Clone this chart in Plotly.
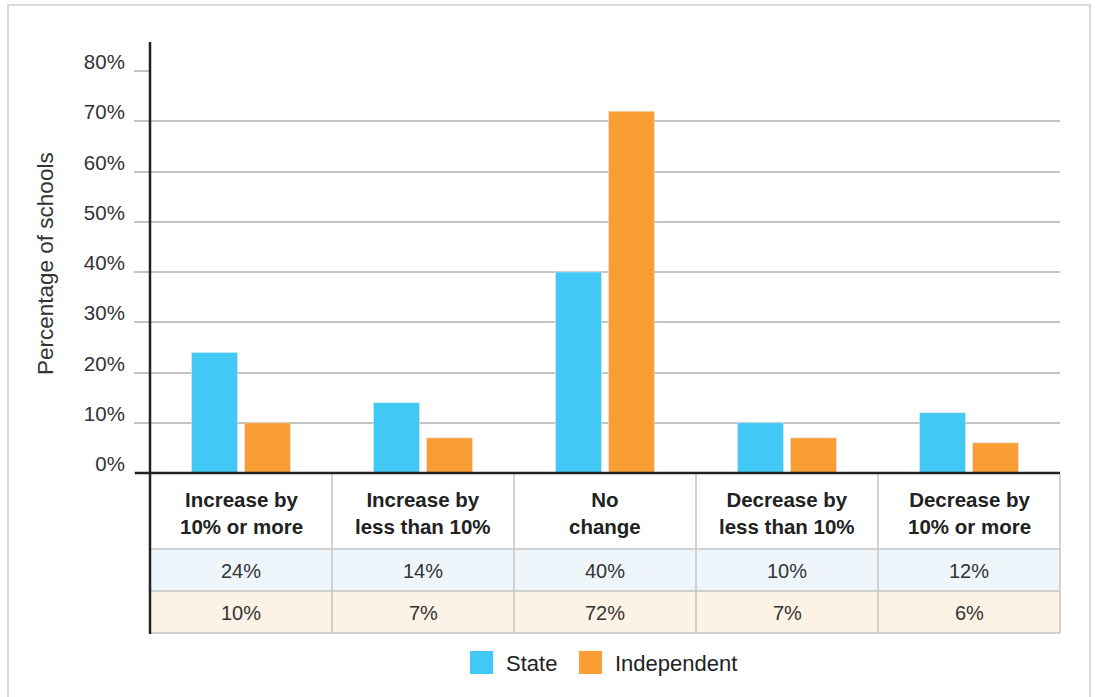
import plotly.graph_objects as go

# data
categories = ["Increase by<br>10% or more", "Increase by<br>less than 10%", "No<br>change",
              "Decrease by<br>less than 10%", "Decrease by<br>10% or more"]
state = [24, 14, 40, 10, 12]
independent = [10, 7, 72, 7, 6]
y_ticks = [0, 10, 20, 30, 40, 50, 60, 70, 80]
tick_labels = [f"{v}%" for v in y_ticks]

W, H = 1095, 697
L, R, T, B = 150, 1060, 71, 473  # plot area in pixels

def px(x):
    return (x - L) / (R - L)

def py(y):
    return (B - y) / (B - T)

STATE_C = "#41C8F4"
IND_C = "#F89E34"
GRID_C = "#C4C4C4"
TEXT_C = "#333333"
FONT = "Liberation Sans"

fig = go.Figure()
fig.add_trace(go.Bar(x=list(range(5)), y=state, name="State", marker_color=STATE_C,
                     showlegend=False))
fig.add_trace(go.Bar(x=list(range(5)), y=independent, name="Independent",
                     marker_color=IND_C, showlegend=False))

shapes = []
annotations = []

# outer frame
shapes.append(dict(type="rect", xref="paper", yref="paper", x0=px(8), x1=px(1090),
                   y0=py(710), y1=py(5), line=dict(color="#D0D0D0", width=1.5),
                   layer="below"))

# table rows fill
col_w = (R - L) / 5
shapes.append(dict(type="rect", xref="paper", yref="paper", x0=0, x1=1,
                   y0=py(591), y1=py(549), fillcolor="#EEF6FC", line_width=0, layer="below"))
shapes.append(dict(type="rect", xref="paper", yref="paper", x0=0, x1=1,
                   y0=py(633), y1=py(591), fillcolor="#FCF3E6", line_width=0, layer="below"))
# horizontal table lines
for yy in [549, 591, 633]:
    shapes.append(dict(type="line", xref="paper", yref="paper", x0=0, x1=1, y0=py(yy), y1=py(yy),
                       line=dict(color=GRID_C, width=1.5)))
# vertical table lines
for k in range(1, 6):
    xx = L + col_w * k
    shapes.append(dict(type="line", xref="paper", yref="paper", x0=px(xx), x1=px(xx),
                       y0=py(633), y1=py(474), line=dict(color=GRID_C, width=1.5)))
# axes lines
shapes.append(dict(type="line", xref="paper", yref="paper", x0=px(135), x1=1, y0=0, y1=0,
                   line=dict(color="#222222", width=2.5)))
shapes.append(dict(type="line", xref="paper", yref="paper", x0=0, x1=0, y0=py(634), y1=py(42),
                   line=dict(color="#222222", width=2.5)))

# table text
for i, cat in enumerate(categories):
    annotations.append(dict(x=i, xref="x", y=py(513), yref="paper", text=cat, showarrow=False,
                            font=dict(family=FONT, size=20.5, color="#222222", weight="bold"),
                            xanchor="center", yanchor="middle"))
    annotations.append(dict(x=i, xref="x", y=py(571), yref="paper", text=f"{state[i]}%",
                            showarrow=False, xanchor="center", yanchor="middle",
                            font=dict(family=FONT, size=20, color=TEXT_C)))
    annotations.append(dict(x=i, xref="x", y=py(613), yref="paper", text=f"{independent[i]}%",
                            showarrow=False, xanchor="center", yanchor="middle",
                            font=dict(family=FONT, size=20, color=TEXT_C)))

# y title
annotations.append(dict(x=px(45), y=py(264), xref="paper", yref="paper",
                        text="Percentage of schools", textangle=-90, showarrow=False,
                        xanchor="center", yanchor="middle",
                        font=dict(family=FONT, size=22.5, color=TEXT_C)))

# legend
for name, color, x0, tx in [("State", STATE_C, 470, 504), ("Independent", IND_C, 579, 613)]:
    shapes.append(dict(type="rect", xref="paper", yref="paper", x0=px(x0), x1=px(x0 + 23),
                       y0=py(674), y1=py(651), fillcolor=color, line_width=0))
    annotations.append(dict(x=px(tx), y=py(663), xref="paper", yref="paper", text=name,
                            showarrow=False, xanchor="left", yanchor="middle",
                            font=dict(family=FONT, size=22, color="#222222")))

fig.update_layout(
    width=W, height=H,
    margin=dict(l=L, r=W - R, t=T, b=H - B, pad=0),
    plot_bgcolor="white", paper_bgcolor="white",
    barmode="group", bargap=0.418, bargroupgap=0.132,
    shapes=shapes, annotations=annotations,
    showlegend=False,
)
fig.update_xaxes(range=[-0.5, 4.5], showticklabels=False, showgrid=False, zeroline=False,
                 showline=False, ticks="")
fig.update_yaxes(range=[0, 80], tickvals=y_ticks, ticktext=tick_labels, showgrid=True,
                 gridcolor=GRID_C, gridwidth=1.5, zeroline=False, showline=False,
                 ticks="outside", ticklen=15, tickcolor=GRID_C, tickwidth=1.5,
                 ticklabelshift=-9, ticklabelstandoff=5,
                 tickfont=dict(family=FONT, size=20.5, color=TEXT_C))

fig.write_html("out.html", config={"displayModeBar": False},
               post_script="document.body.style.margin='0';")
